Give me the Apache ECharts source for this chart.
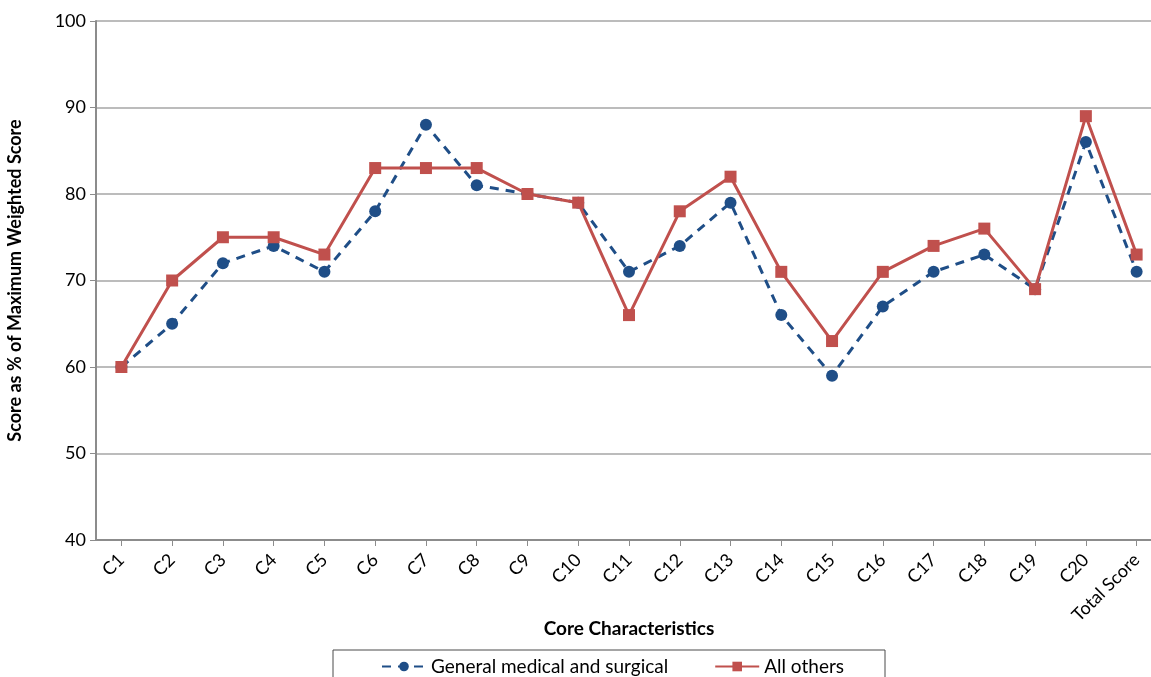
<!DOCTYPE html>
<html>
<head>
<meta charset="utf-8">
<script src="https://cdn.jsdelivr.net/npm/echarts@6/dist/echarts.min.js"></script>
<style>
  html, body { margin: 0; padding: 0; background: #fff; }
  #chart { width: 1151px; height: 677px; }
</style>
</head>
<body>
<div id="chart"></div>
<script>
// Core characteristic categories
const categories = ['C1','C2','C3','C4','C5','C6','C7','C8','C9','C10','C11','C12','C13','C14','C15','C16','C17','C18','C19','C20','Total Score'];
// Score as % of maximum weighted score
const generalMedicalSurgical = [60, 65, 72, 74, 71, 78, 88, 81, 80, 79, 71, 74, 79, 66, 59, 67, 71, 73, 69, 86, 71];
const allOthers = [60, 70, 75, 75, 73, 83, 83, 83, 80, 79, 66, 78, 82, 71, 63, 71, 74, 76, 69, 89, 73];
const yTicks = [40, 50, 60, 70, 80, 90, 100];

const FONT = 'Lato, "Open Sans", sans-serif';
const BLUE = '#1F4E87';
const RED = '#C0504D';

const chart = echarts.init(document.getElementById('chart'), null, { renderer: 'canvas' });

chart.setOption({
  backgroundColor: '#fff',
  animation: false,
  textStyle: { fontFamily: FONT },
  grid: { left: 96, top: 21, width: 1066, height: 519, containLabel: false, outerBoundsMode: 'none' },
  graphic: [{
    type: 'rect',
    shape: { x: 333, y: 650, width: 552, height: 40 },
    style: { fill: 'none', stroke: '#4a4a4a', lineWidth: 1 },
    silent: true
  }],
  legend: {
    left: 376,
    top: 652,
    itemWidth: 44,
    itemHeight: 12,
    itemGap: 46,
    textStyle: { fontFamily: FONT, fontSize: 19, color: '#000' },
    data: ['General medical and surgical', 'All others']
  },
  xAxis: {
    type: 'category',
    data: categories,
    boundaryGap: true,
    name: 'Core Characteristics',
    nameLocation: 'middle',
    nameMoveOverlap: false,
    nameGap: 79,
    nameTextStyle: { fontFamily: FONT, fontSize: 19, fontWeight: 'bold', color: '#000' },
    axisLine: { lineStyle: { color: '#8c8c8c', width: 2 } },
    axisTick: { show: true, alignWithLabel: true, length: 6, lineStyle: { color: '#8c8c8c' } },
    axisLabel: { rotate: 45, fontFamily: FONT, fontSize: 18, color: '#000', margin: 17, interval: 0 }
  },
  yAxis: {
    type: 'value',
    min: yTicks[0],
    max: yTicks[yTicks.length - 1],
    interval: 10,
    name: 'Score as % of Maximum Weighted Score',
    nameLocation: 'middle',
    nameMoveOverlap: false,
    nameGap: 72,
    nameTextStyle: { fontFamily: FONT, fontSize: 18, fontWeight: 'bold', color: '#000' },
    axisLine: { show: true, lineStyle: { color: '#8c8c8c', width: 2 } },
    axisTick: { show: true, length: 6, lineStyle: { color: '#8c8c8c' } },
    axisLabel: { fontFamily: FONT, fontSize: 18, color: '#000', margin: 10 },
    splitLine: { show: true, lineStyle: { color: '#a6a6a6', width: 1.5 } }
  },
  series: [
    {
      name: 'General medical and surgical',
      type: 'line',
      data: generalMedicalSurgical,
      symbol: 'circle',
      symbolSize: 12,
      itemStyle: { color: BLUE },
      lineStyle: { color: BLUE, width: 3, type: [9, 7] },
      z: 2
    },
    {
      name: 'All others',
      type: 'line',
      data: allOthers,
      symbol: 'rect',
      symbolSize: 12,
      itemStyle: { color: RED },
      lineStyle: { color: RED, width: 3 },
      z: 3
    }
  ]
});
</script>
</body>
</html>
